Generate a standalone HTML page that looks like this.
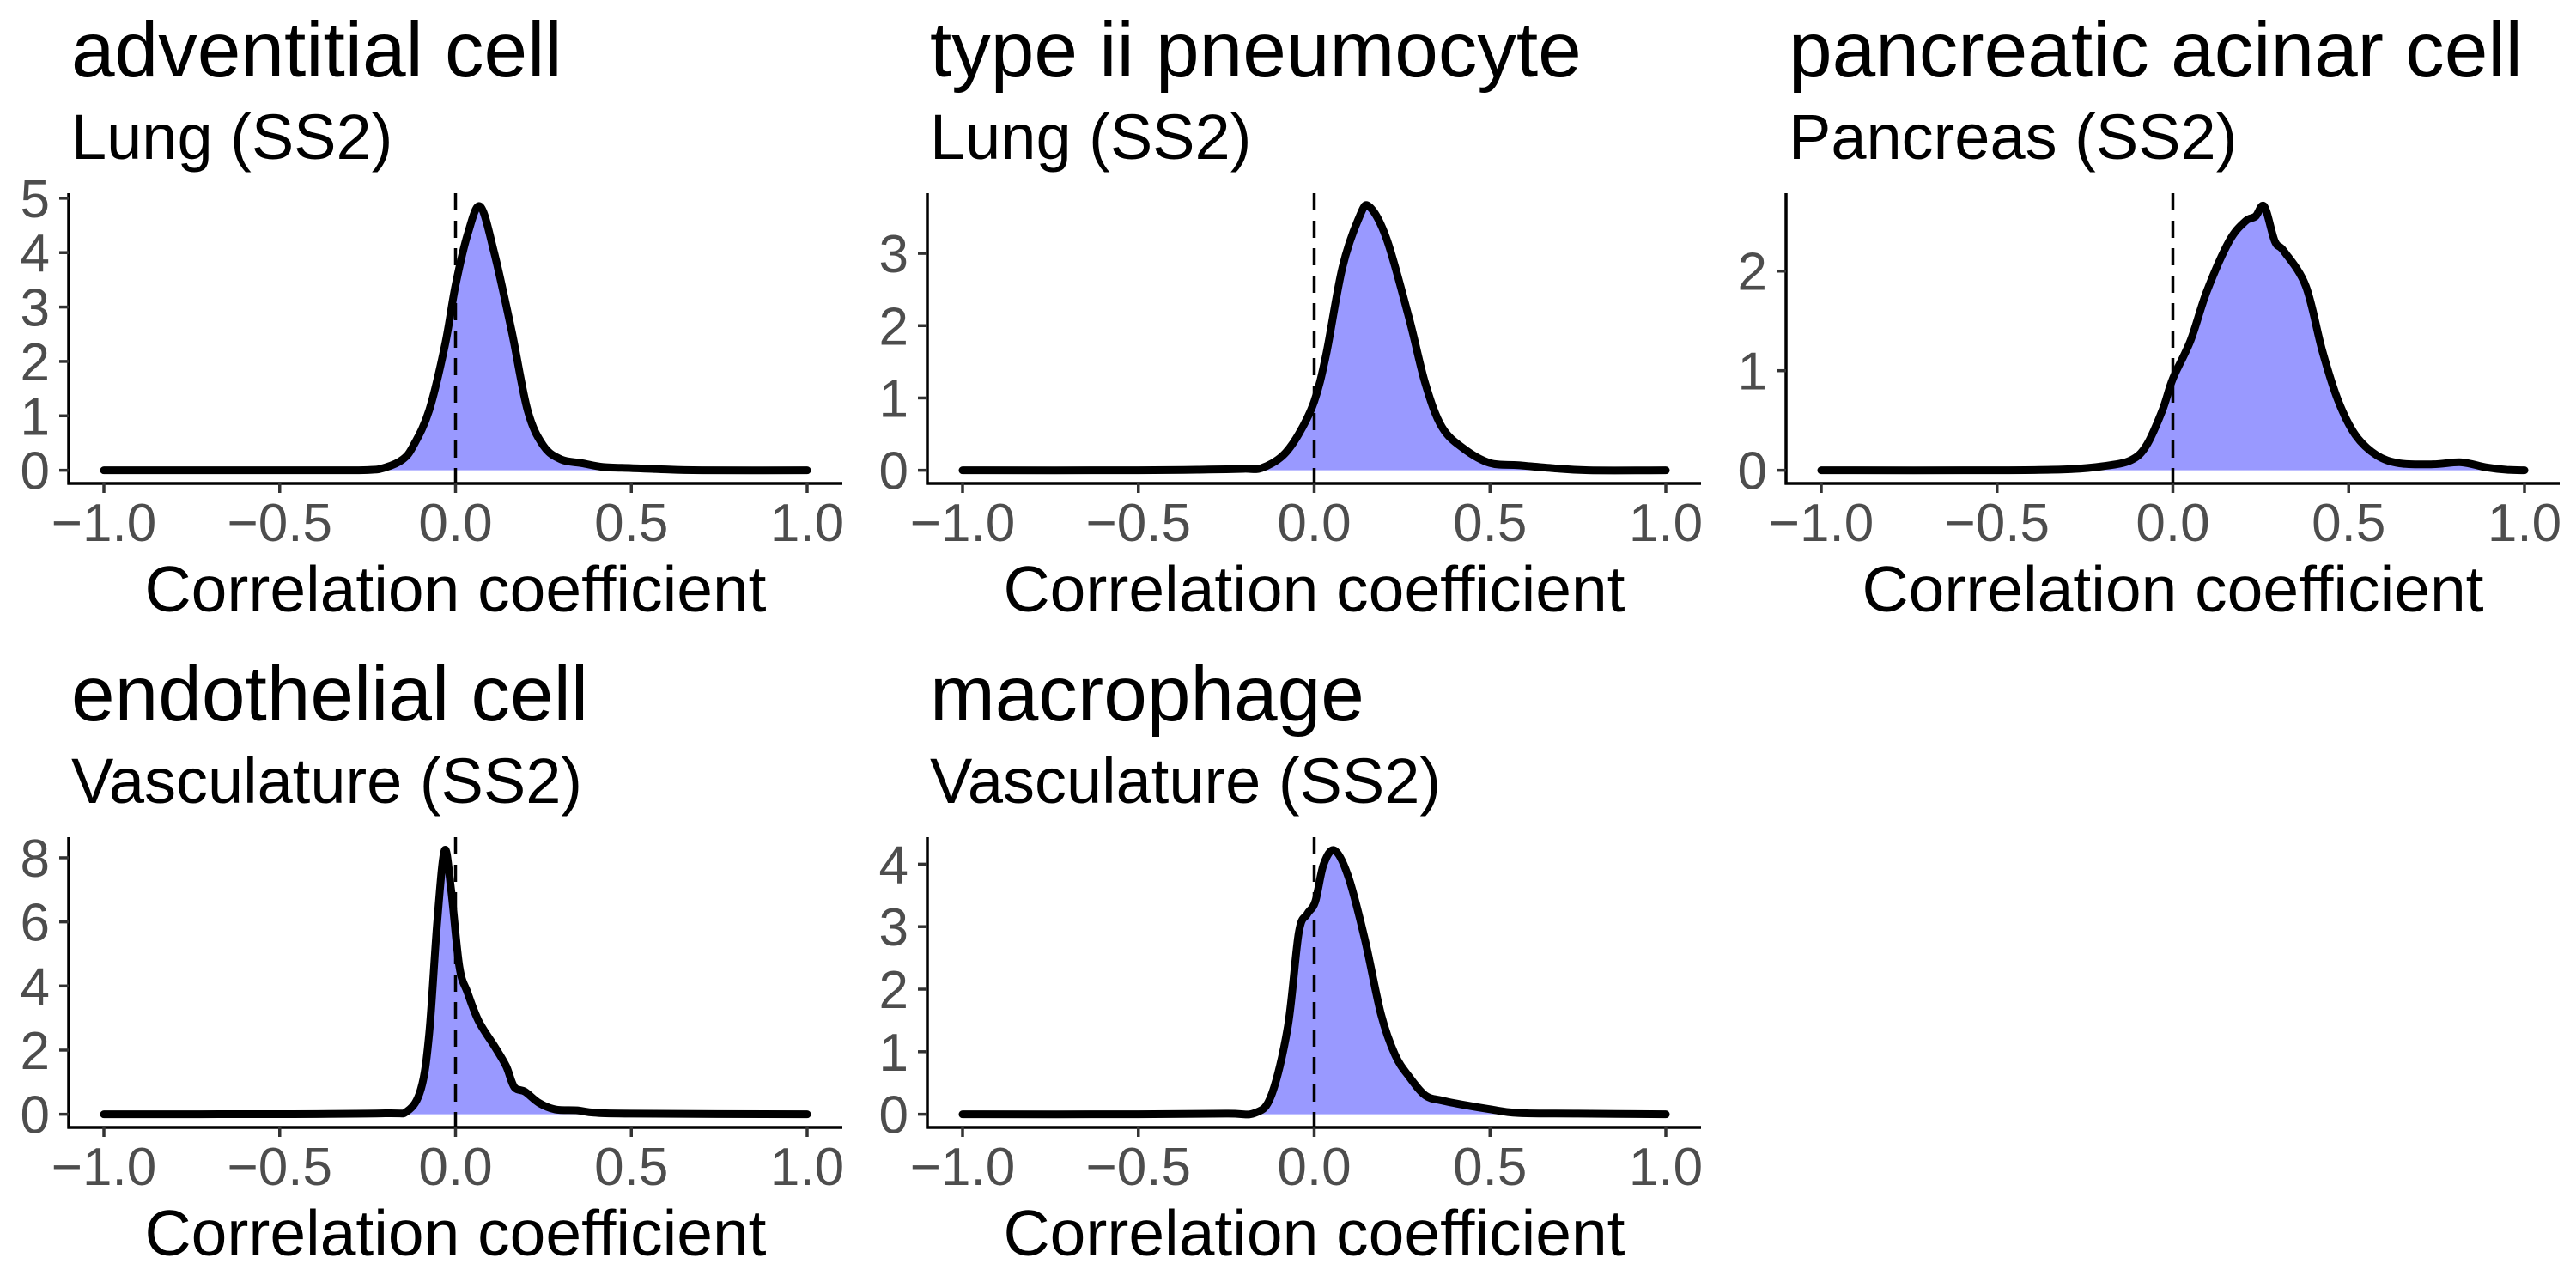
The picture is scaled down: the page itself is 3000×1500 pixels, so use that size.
<!DOCTYPE html>
<html><head><meta charset="utf-8">
<style>
html,body{margin:0;padding:0;background:#fff;}
svg{display:block;font-family:"Liberation Sans",Arial,sans-serif;}
</style></head>
<body>
<svg id="chart" width="3000" height="1500" viewBox="0 0 3000 1500" xmlns="http://www.w3.org/2000/svg"></svg>
<script>
// Panel metadata
const titles = ["adventitial cell","type ii pneumocyte","pancreatic acinar cell","endothelial cell","macrophage"];
const subtitles = ["Lung (SS2)","Lung (SS2)","Pancreas (SS2)","Vasculature (SS2)","Vasculature (SS2)"];
const xTicks = [-1,-0.5,0,0.5,1];
const xTickLabels = ["\u22121.0","\u22120.5","0.0","0.5","1.0"];
const yTicks1 = [0,1,2,3,4,5];
const yTicks2 = [0,1,2,3];
const yTicks3 = [0,1,2];
const yTicks4 = [0,2,4,6,8];
const yTicks5 = [0,1,2,3,4];
// Density series
const x1 = [-1,-0.4,-0.25,-0.2,-0.15,-0.12,-0.075,-0.03,0,0.035,0.07,0.11,0.16,0.205,0.25,0.3,0.36,0.42,0.5,0.58,0.7,1];
const y1 = [0,0,0.005,0.05,0.2,0.45,1.1,2.3,3.4,4.35,4.85,4.0,2.55,1.1,0.45,0.2,0.13,0.06,0.04,0.02,0,0];
const x2 = [-1,-0.5,-0.3,-0.2,-0.15,-0.09,-0.044,0,0.034,0.08,0.128,0.156,0.206,0.27,0.316,0.363,0.425,0.5,0.58,0.675,0.78,1];
const y2 = [0,0,0.01,0.02,0.03,0.2,0.5,0.95,1.6,2.8,3.5,3.65,3.2,2.1,1.2,0.6,0.3,0.1,0.07,0.03,0,0];
const x3 = [-1,-0.5,-0.3,-0.2,-0.12,-0.075,-0.03,0,0.05,0.097,0.16,0.206,0.235,0.26,0.29,0.316,0.378,0.425,0.47,0.52,0.58,0.645,0.74,0.82,0.89,0.95,1];
const y3 = [0,0,0.01,0.04,0.1,0.25,0.6,0.92,1.3,1.8,2.3,2.5,2.55,2.65,2.3,2.2,1.85,1.2,0.7,0.35,0.15,0.07,0.06,0.08,0.03,0.005,0];
const x4 = [-1,-0.5,-0.2,-0.137,-0.098,-0.075,-0.052,-0.031,-0.0125,0.011,0.034,0.066,0.112,0.144,0.167,0.198,0.238,0.284,0.347,0.394,0.5,1];
const y4 = [0,0.005,0.03,0.1,0.8,2.5,6.0,8.23,7.0,4.6,3.8,2.9,2.1,1.5,0.85,0.7,0.35,0.15,0.12,0.05,0.02,0];
const x5 = [-1,-0.5,-0.25,-0.169,-0.122,-0.075,-0.044,-0.02,0.003,0.027,0.058,0.097,0.144,0.19,0.23,0.27,0.316,0.363,0.425,0.5,0.58,0.75,1];
const y5 = [0,0,0.01,0.02,0.3,1.4,2.9,3.2,3.4,4.0,4.22,3.8,2.8,1.6,0.95,0.6,0.3,0.22,0.15,0.08,0.02,0.01,0];

const NS = "http://www.w3.org/2000/svg";
const svg = document.getElementById("chart");
function mk(tag, attrs, parent){
  const e = document.createElementNS(NS, tag);
  for (const k in attrs) e.setAttribute(k, attrs[k]);
  parent.appendChild(e);
  return e;
}
function smoothPath(pts){
  let d = "M" + pts[0][0].toFixed(2) + "," + pts[0][1].toFixed(2);
  for (let i = 0; i < pts.length - 1; i++){
    const p0 = pts[Math.max(0,i-1)], p1 = pts[i], p2 = pts[i+1], p3 = pts[Math.min(pts.length-1,i+2)];
    const c1x = p1[0] + (p2[0]-p0[0])/6, c1y = p1[1] + (p2[1]-p0[1])/6;
    const c2x = p2[0] - (p3[0]-p1[0])/6, c2y = p2[1] - (p3[1]-p1[1])/6;
    d += " C" + c1x.toFixed(2)+","+c1y.toFixed(2)+" "+c2x.toFixed(2)+","+c2y.toFixed(2)+" "+p2[0].toFixed(2)+","+p2[1].toFixed(2);
  }
  return d;
}
const seriesX = [x1,x2,x3,x4,x5];
const seriesY = [y1,y2,y3,y4,y5];
const ticksY = [yTicks1,yTicks2,yTicks3,yTicks4,yTicks5];
const offsets = [[0,0],[1000,0],[2000,0],[0,750],[1000,750]];

for (let p = 0; p < 5; p++){
  const ox = offsets[p][0], oy = offsets[p][1];
  const g = mk("g", {transform:"translate("+ox+","+oy+")"}, svg);
  
  
  const L = 80, R = 981, T = 225, B = 563;
  const xs = v => 121 + (v + 1) / 2 * (940 - 121);
  const xv = seriesX[p], yv = seriesY[p];
  const M = Math.max.apply(null, yv);
  const lo = -0.05*M, hi = 1.05*M;
  const ys = v => B - (v - lo) / (hi - lo) * (B - T);

  const t = mk("text", {x:83, y:89, "font-size":91, fill:"#000"}, g);
  t.textContent = titles[p];
  
  
  const st = mk("text", {x:83, y:185, "font-size":74, fill:"#000"}, g);
  st.textContent = subtitles[p];
  
  

  const pts = xv.map((x,i) => [xs(x), ys(yv[i])]);
  const line = smoothPath(pts);
  const area = mk("path", {d: line + " L" + xs(xv[xv.length-1]).toFixed(2) + "," + ys(0).toFixed(2) + " L" + xs(xv[0]).toFixed(2) + "," + ys(0).toFixed(2) + " Z", fill:"#9999FF", stroke:"none"}, g);
  
  
  const dl = mk("line", {x1:xs(0), x2:xs(0), y1:T, y2:B, stroke:"#000", "stroke-width":3.5, "stroke-dasharray":"20,12"}, g);
  
  
  const ln = mk("path", {d: line, fill:"none", stroke:"#000", "stroke-width":9, "stroke-linecap":"round", "stroke-linejoin":"round"}, g);
  
  

  const ya = mk("line", {x1:L, x2:L, y1:T, y2:B+1.5, stroke:"#000", "stroke-width":3.5}, g);
  
  
  const xa = mk("line", {x1:L-1.5, x2:R, y1:B, y2:B, stroke:"#000", "stroke-width":3.5}, g);
  
  

  ticksY[p].forEach(v => {
    const y = ys(v);
    const tk = mk("line", {x1:69, x2:L, y1:y, y2:y, stroke:"#333", "stroke-width":3.5}, g);
    
    
    const lb = mk("text", {x:58, y:y+22, "font-size":62, fill:"#4D4D4D", "text-anchor":"end"}, g);
    lb.textContent = String(v);
    
    
  });
  xTicks.forEach((v,i) => {
    const x = xs(v);
    const tk = mk("line", {x1:x, x2:x, y1:B, y2:B+11, stroke:"#333", "stroke-width":3.5}, g);
    
    
    const lb = mk("text", {x:x, y:630, "font-size":62, fill:"#4D4D4D", "text-anchor":"middle"}, g);
    lb.textContent = xTickLabels[i];
    
    
  });
  const at = mk("text", {x:(L+R)/2, y:712, "font-size":75, fill:"#000", "text-anchor":"middle"}, g);
  at.textContent = "Correlation coefficient";
  
  
}
</script>
</body></html>
